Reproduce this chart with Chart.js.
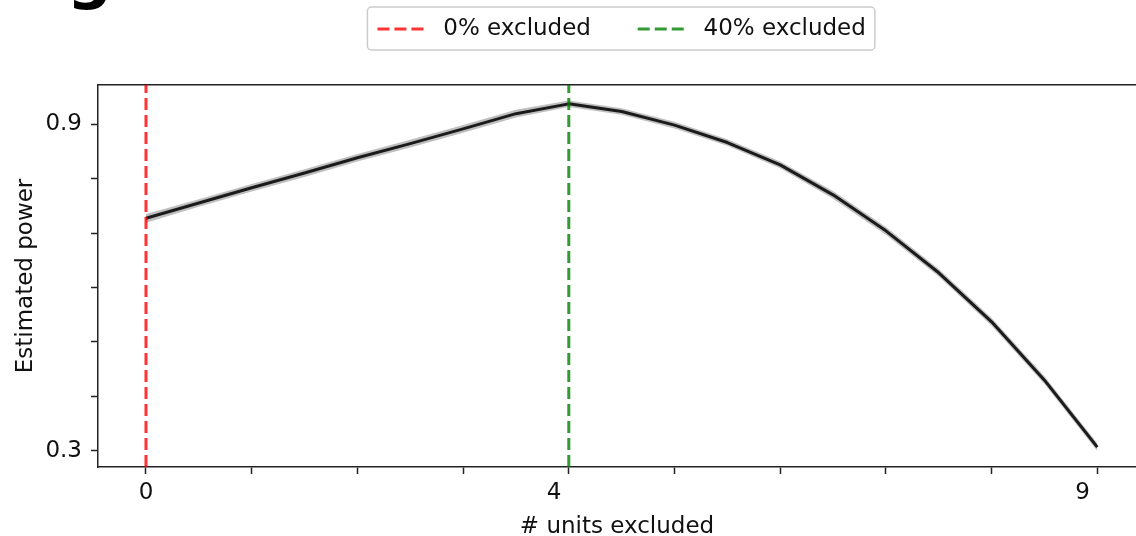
<!DOCTYPE html>
<html>
<head>
<meta charset="utf-8">
<script src="https://cdn.jsdelivr.net/npm/chart.js@4/dist/chart.umd.min.js"></script>
<style>
  html, body { margin: 0; padding: 0; background: #ffffff; }
  #wrap { position: relative; width: 1136px; height: 536px; overflow: hidden; }
  #chart { position: absolute; left: 0; top: 0; }
  #panel { position: absolute; left: 67px; top: -56px; font: bold 63px "DejaVu Sans"; line-height: 63px; color: #000; }
</style>
</head>
<body>
<div id="wrap">
  <canvas id="chart" width="1136" height="536"></canvas>
  <div id="panel">g</div>
</div>
<script>
// Number of excluded units (x) and the estimated power at each step
const unitsExcluded = [0, 0.5, 1, 1.5, 2, 2.5, 3, 3.5, 4, 4.5, 5, 5.5, 6, 6.5, 7, 7.5, 8, 8.5, 9];
const estimatedPower = [0.727, 0.755, 0.783, 0.810, 0.838, 0.864, 0.891, 0.919, 0.937, 0.923, 0.898, 0.866, 0.825, 0.770, 0.704, 0.627, 0.537, 0.430, 0.307];
// Spread band around the estimate
const powerUpper = [0.735, 0.762, 0.790, 0.817, 0.845, 0.871, 0.898, 0.926, 0.943, 0.929, 0.904, 0.872, 0.831, 0.777, 0.711, 0.634, 0.544, 0.437, 0.314];
const powerLower = [0.719, 0.748, 0.776, 0.803, 0.831, 0.857, 0.884, 0.912, 0.931, 0.917, 0.892, 0.860, 0.819, 0.763, 0.697, 0.620, 0.530, 0.423, 0.300];

// Reference exclusion levels
const markerUnits = [0, 4];
const markerLabels = [' 0% excluded    ', ' 40% excluded'];
const markerColors = ['rgba(255, 0, 0, 0.8)', 'rgba(0, 128, 0, 0.8)'];

// Axis ticks
const xTickValues = [0, 1, 2, 3, 4, 5, 6, 7, 8, 9];
const xTickLabels = ['0', '', '', '', '4    ', '', '', '', '', '9    '];
const yTickValues = [0.3, 0.4, 0.5, 0.6, 0.7, 0.8, 0.9];
const yTickLabels = ['0.3', '', '', '', '', '', '0.9'];

// Axis ranges
const X_MIN = -0.454, X_MAX = 9.366;
const Y_MIN = 0.2706, Y_MAX = 0.9716;

const FONT = 'DejaVu Sans';
const INK = '#111111';
const SPINE = '#222222';
const PLOT_TOP = 85;

const toPoints = (xs, ys) => xs.map((x, i) => ({ x: x, y: ys[i] }));

const markerSets = markerUnits.map((u, i) => ({
  label: markerLabels[i],
  data: [{ x: u, y: Y_MIN }, { x: u, y: Y_MAX }],
  borderColor: markerColors[i],
  backgroundColor: markerColors[i],
  borderWidth: 3,
  borderDash: [12, 5],
  pointRadius: 0,
  fill: false
}));

// Centres the legend over the axes and draws its frame
const legendFrame = {
  id: 'legendFrame',
  afterLayout(chart) {
    const lg = chart.legend;
    const target = chart.scales.x.getPixelForValue(4.5);
    const delta = target - (lg.left + lg.right) / 2;
    lg.left += delta;
    lg.right += delta;
  },
  afterDraw(chart) {
    const lg = chart.legend;
    if (!lg || !lg.legendHitBoxes || !lg.legendHitBoxes.length) return;
    const hb = lg.legendHitBoxes;
    const first = hb[0], last = hb[hb.length - 1];
    const x0 = first.left - 10, x1 = last.left + last.width + 9;
    const y0 = first.top - 10.5, y1 = first.top + first.height + 9.5;
    const ctx = chart.ctx;
    ctx.save();
    ctx.strokeStyle = '#cccccc';
    ctx.lineWidth = 1.5;
    ctx.beginPath();
    ctx.roundRect(x0, y0, x1 - x0, y1 - y0, 4);
    ctx.stroke();
    ctx.restore();
  }
};

new Chart(document.getElementById('chart'), {
  type: 'line',
  data: {
    datasets: [
      ...markerSets,
      {
        label: 'Estimated power',
        data: toPoints(unitsExcluded, estimatedPower),
        borderColor: '#1b1b1b',
        borderWidth: 3,
        pointRadius: 0,
        tension: 0,
        borderJoinStyle: 'round',
        fill: false
      },
      {
        label: 'upper',
        data: toPoints(unitsExcluded, powerUpper),
        borderWidth: 0,
        pointRadius: 0,
        backgroundColor: 'rgba(0, 0, 0, 0.25)',
        fill: '+1'
      },
      {
        label: 'lower',
        data: toPoints(unitsExcluded, powerLower),
        borderWidth: 0,
        pointRadius: 0,
        fill: false
      }
    ]
  },
  options: {
    responsive: false,
    animation: false,
    devicePixelRatio: 1,
    layout: { padding: 0, autoPadding: false },
    plugins: {
      tooltip: { enabled: false },
      legend: {
        position: 'top',
        labels: {
          usePointStyle: true,
          pointStyle: 'line',
          pointStyleWidth: 47,
          padding: 17.5,
          color: INK,
          font: { family: FONT, size: 23 },
          generateLabels: (chart) => Chart.defaults.plugins.legend.labels.generateLabels(chart).map((item) => {
            const ds = chart.data.datasets[item.datasetIndex];
            return Object.assign({}, item, {
              lineDash: ds.borderDash || [],
              lineWidth: ds.borderWidth,
              strokeStyle: ds.borderColor
            });
          }),
          filter: (item) => item.datasetIndex < markerUnits.length
        }
      }
    },
    scales: {
      x: {
        type: 'linear',
        position: 'bottom',
        min: X_MIN,
        max: X_MAX,
        afterBuildTicks: (s) => { s.ticks = xTickValues.map(v => ({ value: v })); },
        afterFit: (s) => { s.height = 69; },
        grid: { display: true, drawOnChartArea: false, drawTicks: true, tickLength: 7, tickWidth: 1.5, tickColor: SPINE },
        border: { display: true, color: SPINE, width: 1.5 },
        ticks: {
          autoSkip: false, maxRotation: 0, padding: 5, color: INK,
          font: { family: FONT, size: 23 },
          callback: (v, i) => xTickLabels[i]
        },
        title: { display: true, text: '# units excluded', color: INK, font: { family: FONT, size: 23 }, padding: { top: 0, bottom: -4.5 } }
      },
      x2: {
        type: 'linear',
        axis: 'x',
        position: 'top',
        min: X_MIN,
        max: X_MAX,
        afterFit: (s) => { s.height = Math.max(0, PLOT_TOP - s.chart.legend.height); },
        grid: { display: false },
        border: { display: true, color: SPINE, width: 1.5 },
        ticks: { display: false }
      },
      y: {
        type: 'linear',
        position: 'left',
        min: Y_MIN,
        max: Y_MAX,
        afterBuildTicks: (s) => { s.ticks = yTickValues.map(v => ({ value: v })); },
        afterFit: (s) => { s.width = 98; },
        grid: { display: true, drawOnChartArea: false, drawTicks: true, tickLength: 7, tickWidth: 1.5, tickColor: SPINE },
        border: { display: true, color: SPINE, width: 1.5 },
        ticks: {
          padding: 9, color: INK,
          font: { family: FONT, size: 23 },
          callback: (v, i) => yTickLabels[i]
        },
        title: { display: true, text: 'Estimated power', color: INK, font: { family: FONT, size: 23 }, padding: { top: 12, bottom: 0 } }
      }
    }
  },
  plugins: [legendFrame]
});
</script>
</body>
</html>
